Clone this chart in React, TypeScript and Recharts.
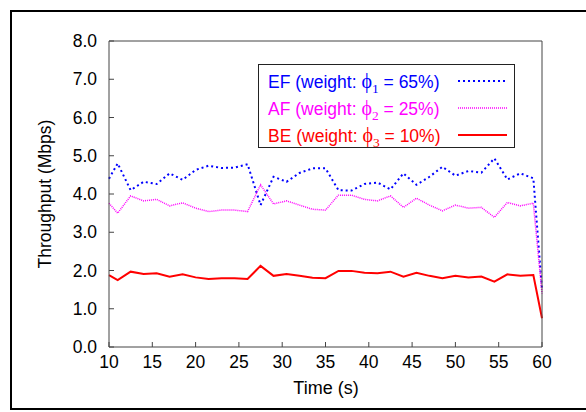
import React from "react";
import { LineChart, Line, XAxis, YAxis } from "recharts";

// sample times (s)
const time = [
  10, 11, 12.5, 14, 15.5, 17, 18.5, 20, 21.5, 23, 24.5, 26, 27.5, 29, 30.5, 32, 33.5, 35,
  36.5, 38, 39.5, 41, 42.5, 44, 45.5, 47, 48.5, 50, 51.5, 53, 54.5, 56, 57.5, 59, 60,
];

// throughput in Mbps
const ef = [
  4.4, 4.8, 4.1, 4.32, 4.26, 4.54, 4.37, 4.63, 4.74, 4.68, 4.69, 4.78, 3.71, 4.45, 4.32,
  4.55, 4.67, 4.67, 4.1, 4.09, 4.26, 4.3, 4.12, 4.54, 4.24, 4.45, 4.71, 4.48, 4.6, 4.56,
  4.93, 4.38, 4.54, 4.41, 1.5,
];
const af = [
  3.76, 3.5, 3.95, 3.82, 3.86, 3.69, 3.77, 3.63, 3.54, 3.58, 3.58, 3.54, 4.24, 3.74, 3.82,
  3.71, 3.6, 3.58, 3.97, 3.97, 3.86, 3.82, 3.95, 3.65, 3.89, 3.71, 3.56, 3.71, 3.63, 3.65,
  3.39, 3.78, 3.69, 3.76, 1.4,
];
const be = [
  1.88, 1.75, 1.97, 1.91, 1.93, 1.84, 1.9, 1.82, 1.78, 1.8, 1.8, 1.78, 2.12, 1.86, 1.91,
  1.86, 1.81, 1.8, 1.99, 1.99, 1.94, 1.93, 1.97, 1.84, 1.94, 1.86, 1.8, 1.86, 1.82, 1.84,
  1.71, 1.9, 1.86, 1.88, 0.75,
];

const xTicks = [10, 15, 20, 25, 30, 35, 40, 45, 50, 55, 60];
const yTicks = [0, 1, 2, 3, 4, 5, 6, 7, 8];

const legendItems = [
  { name: "EF", sub: "1", pct: "65%", color: "#0000ff", dash: "2 3", width: 2 },
  { name: "AF", sub: "2", pct: "25%", color: "#ff00ff", dash: "1 1", width: 1.5 },
  { name: "BE", sub: "3", pct: "10%", color: "#ff0000", dash: undefined, width: 2 },
];

const data = time.map((t, i) => ({ t, ef: ef[i], af: af[i], be: be[i] }));

const FONT = "'Liberation Sans', Arial, Helvetica, sans-serif";
const SERIF = "'Liberation Serif', 'DejaVu Serif', serif";
const axisColor = "#444";
const tickStyle = { fill: "#000", fontSize: 17.5, fontFamily: FONT };

export default function App() {
  return (
    <div
      style={{
        position: "fixed",
        left: 0,
        top: 0,
        width: 586,
        height: 412,
        background: "#fff",
        overflow: "hidden",
        fontFamily: FONT,
      }}
    >
      <div
        style={{
          position: "absolute",
          left: 10,
          top: 10,
          width: 620,
          height: 396,
          border: "2px solid #000",
        }}
      />
      <div style={{ position: "absolute", left: 0, top: 0 }}>
        <LineChart
          width={586}
          height={412}
          data={data}
          margin={{ top: 40, right: 43, bottom: 35, left: 49 }}
        >
          <XAxis
            dataKey="t"
            type="number"
            domain={[10, 60]}
            ticks={xTicks}
            height={30}
            stroke={axisColor}
            tickSize={-5}
            tickMargin={14}
            tick={tickStyle}
            interval={0}
          />
          <XAxis
            xAxisId="top"
            orientation="top"
            dataKey="t"
            type="number"
            domain={[10, 60]}
            ticks={xTicks}
            height={1}
            stroke={axisColor}
            tickSize={-5}
            tick={false}
          />
          <YAxis
            type="number"
            domain={[0, 8]}
            ticks={yTicks}
            width={60}
            stroke={axisColor}
            tickSize={-5}
            tickMargin={17}
            tick={tickStyle}
            tickFormatter={(v: number) => v.toFixed(1)}
            interval={0}
          />
          <YAxis
            yAxisId="right"
            orientation="right"
            type="number"
            domain={[0, 8]}
            ticks={yTicks}
            width={1}
            stroke={axisColor}
            tickSize={-5}
            tick={false}
          />
          <Line
            dataKey="ef"
            stroke="#0000ff"
            strokeWidth={2}
            strokeDasharray="2 3"
            dot={false}
            type="linear"
            isAnimationActive={false}
          />
          <Line
            dataKey="af"
            stroke="#ff00ff"
            strokeWidth={1.5}
            strokeDasharray="1 1"
            dot={false}
            type="linear"
            isAnimationActive={false}
          />
          <Line
            dataKey="be"
            stroke="#ff0000"
            strokeWidth={2}
            dot={false}
            type="linear"
            isAnimationActive={false}
          />
        </LineChart>
      </div>

      {/* axis titles */}
      <div
        style={{
          position: "absolute",
          left: 45,
          top: 194,
          transform: "translate(-50%, -50%) rotate(-90deg)",
          fontSize: 17.5,
          whiteSpace: "nowrap",
        }}
      >
        Throughput (Mbps)
      </div>
      <div
        style={{
          position: "absolute",
          left: 326,
          top: 388,
          transform: "translate(-50%, -50%)",
          fontSize: 18,
          whiteSpace: "nowrap",
        }}
      >
        Time (s)
      </div>

      {/* legend */}
      <div
        style={{
          position: "absolute",
          left: 258,
          top: 64,
          width: 257,
          height: 84,
          border: "1.5px solid #222",
          background: "#fff",
          boxSizing: "border-box",
        }}
      >
        {legendItems.map((it, i) => (
          <div
            key={it.name}
            style={{
              position: "absolute",
              left: 9,
              top: 5 + i * 27,
              height: 22,
              width: 240,
              color: it.color,
              fontSize: 17.5,
              lineHeight: "22px",
              whiteSpace: "nowrap",
            }}
          >
            {it.name} (weight:{" "}
            <span style={{ fontFamily: SERIF, fontSize: 20 }}>ϕ</span>
            <sub style={{ fontFamily: SERIF, fontSize: 13.5, lineHeight: 0 }}>{it.sub}</sub> ={" "}
            {it.pct})
            <svg
              width={50}
              height={22}
              style={{ position: "absolute", left: 190, top: 0 }}
            >
              <line
                x1={0}
                x2={49}
                y1={11}
                y2={11}
                stroke={it.color}
                strokeWidth={it.width}
                strokeDasharray={it.dash}
              />
            </svg>
          </div>
        ))}
      </div>
    </div>
  );
}
